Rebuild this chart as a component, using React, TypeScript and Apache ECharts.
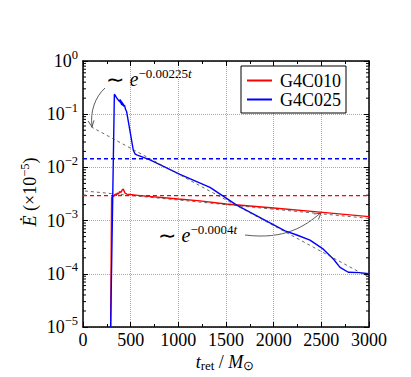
import React, { useEffect, useRef } from "react";
import * as echarts from "echarts";

const FONT = "Liberation Serif";

// Axes
const xMin = 0;
const xMax = 3000;
const xStep = 500;
const yMin = 1e-5;
const yMax = 1;
const yDecadeStarts = [1e-5, 1e-4, 1e-3, 1e-2, 1e-1];
const yMinorMultipliers = [2, 3, 4, 5, 6, 7, 8, 9];

// Series names
const names = ["G4C010", "G4C025"];

// G4C010 (red): [t_ret, Edot]
const g4c010: [number, number][] = [
  [290, 1e-5], [300, 2.7e-3], [312, 2.95e-3], [322, 2.85e-3], [335, 3.1e-3],
  [348, 2.95e-3], [360, 3.3e-3], [372, 3.15e-3], [385, 3.5e-3], [398, 3.4e-3],
  [410, 3.75e-3], [422, 3.9e-3], [440, 3.3e-3], [460, 3.15e-3], [600, 2.95e-3],
  [1000, 2.55e-3], [1227, 2.35e-3], [1500, 2.05e-3], [2000, 1.72e-3],
  [2486, 1.44e-3], [3000, 1.19e-3],
];

// G4C025 (blue)
const g4c025: [number, number][] = [
  [290, 1e-5], [329, 0.237], [345, 0.215], [360, 0.195], [375, 0.18],
  [385, 0.172], [390, 0.19], [395, 0.16], [400, 0.18], [405, 0.15],
  [410, 0.17], [415, 0.145], [420, 0.16], [428, 0.14], [435, 0.15],
  [445, 0.125], [458, 0.111], [528, 0.021], [545, 0.018], [563, 0.0172],
  [703, 0.0138], [1017, 0.0074], [1332, 0.0042], [1612, 0.00196],
  [2119, 6.4e-4], [2250, 5.3e-4], [2381, 4.3e-4], [2521, 2.9e-4],
  [2626, 1.9e-4], [2696, 1.32e-4], [2783, 1.07e-4], [2900, 1.05e-4], [3000, 1.0e-4],
];

// Horizontal reference levels
const g4c010Level = 2.95e-3;
const g4c025Level = 0.0145;

// Exponential fits (straight in log space): endpoints
const fitFast: [number, number][] = [[84, 0.058], [3000, 8.6e-5]];
const fitSlow: [number, number][] = [[20, 3.6e-3], [3000, 1.1e-3]];

const RED = "#ff0000";
const BLUE = "#0000ff";

function supText(v: number): string {
  const e = Math.round(Math.log10(v));
  return e === 0 ? "0" : "\u2212" + Math.abs(e);
}

export default function App() {
  const ref = useRef<HTMLDivElement>(null);

  useEffect(() => {
    if (!ref.current) return;
    const chart = echarts.init(ref.current, undefined, { renderer: "svg" });

    const minorTicks = yDecadeStarts.flatMap((d) => yMinorMultipliers.map((m) => [xMin, m * d]));

    const axisLineStyle = { color: "#000", width: 1.5 };
    const tickStyle = { color: "#000", width: 1 };

    const line = (name: string, data: [number, number][], color: string, width: number, type: any) => ({
      type: "line",
      name,
      data,
      xAxisIndex: 0,
      yAxisIndex: 0,
      symbol: "none",
      showSymbol: false,
      silent: true,
      lineStyle: { color, width, type, opacity: 1 },
      itemStyle: { color },
    });

    const option: any = {
      animation: false,
      backgroundColor: "#fff",
      textStyle: { fontFamily: FONT },
      grid: { left: 83, top: 61, width: 286, height: 266, containLabel: false },
      legend: {
        data: names,
        orient: "vertical",
        left: 241,
        top: 66,
        padding: [5, 5, 4, 6],
        itemGap: 0,
        itemWidth: 25,
        itemHeight: 2,
        icon: "rect",
        borderColor: "#000",
        borderWidth: 1,
        borderRadius: 0,
        backgroundColor: "#fff",
        textStyle: { fontSize: 18, fontFamily: FONT, color: "#000", lineHeight: 19, padding: [0, 0, 0, 3] },
      },
      xAxis: [
        {
          type: "value",
          min: xMin,
          max: xMax,
          interval: xStep,
          position: "bottom",
          axisLine: { onZero: false, lineStyle: axisLineStyle },
          axisTick: { inside: true, length: 5, lineStyle: tickStyle },
          minorTick: { show: true, splitNumber: 2, length: 3, lineStyle: tickStyle },
          splitLine: { show: true, lineStyle: { type: "dotted", color: "#aaaaaa", width: 1 } },
          axisLabel: { fontSize: 18, fontFamily: FONT, color: "#000", margin: 4, formatter: (v: number) => String(v) },
        },
        {
          type: "value",
          min: xMin,
          max: xMax,
          interval: xStep,
          position: "top",
          axisLine: { onZero: false, lineStyle: axisLineStyle },
          axisTick: { inside: true, length: 5, lineStyle: tickStyle },
          minorTick: { show: true, splitNumber: 2, length: 3, lineStyle: tickStyle },
          splitLine: { show: false },
          axisLabel: { show: false },
        },
      ],
      yAxis: [
        {
          type: "log",
          logBase: 10,
          min: yMin,
          max: yMax,
          position: "left",
          axisLine: { onZero: false, lineStyle: axisLineStyle },
          axisTick: { inside: true, length: 5, lineStyle: tickStyle },
          splitLine: { show: true, lineStyle: { type: "dotted", color: "#aaaaaa", width: 1 } },
          axisLabel: {
            margin: 5,
            formatter: (v: number) => `{b|10}{s|${supText(v)}}`,
            rich: {
              b: { fontSize: 18, fontFamily: FONT, color: "#000", lineHeight: 26 },
              s: { fontSize: 12.5, fontFamily: FONT, color: "#000", lineHeight: 12, verticalAlign: "top" },
            },
          },
        },
        {
          type: "log",
          logBase: 10,
          min: yMin,
          max: yMax,
          position: "right",
          axisLine: { onZero: false, lineStyle: axisLineStyle },
          axisTick: { inside: true, length: 5, lineStyle: tickStyle },
          splitLine: { show: false },
          axisLabel: { show: false },
        },
      ],
      series: [
        line("g4c025Level", [[xMin, g4c025Level], [xMax, g4c025Level]], BLUE, 1.4, [4, 3]),
        line("g4c010Level", [[xMin, g4c010Level], [xMax, g4c010Level]], RED, 1.4, [4, 3]),
        line(names[0], g4c010, RED, 1.4, "solid"),
        line(names[1], g4c025, BLUE, 1.4, "solid"),
        line("fitFast", fitFast, "#444", 0.8, [3, 3]),
        line("fitSlow", fitSlow, "#444", 0.8, [3, 3]),
        {
          type: "custom",
          name: "minorTicks",
          xAxisIndex: 0,
          yAxisIndex: 0,
          silent: true,
          data: minorTicks,
          renderItem: (params: any, api: any) => {
            const cs = params.coordSys;
            const y = api.coord([api.value(0), api.value(1)])[1];
            return {
              type: "group",
              children: [
                { type: "line", shape: { x1: cs.x, y1: y, x2: cs.x + 3, y2: y }, style: { stroke: "#000", lineWidth: 1 } },
                { type: "line", shape: { x1: cs.x + cs.width - 3, y1: y, x2: cs.x + cs.width, y2: y }, style: { stroke: "#000", lineWidth: 1 } },
              ],
            };
          },
        },
      ],
      graphic: [
        {
          type: "text",
          x: 106,
          y: 67,
          style: {
            text: "{t|\u223C }{e|e}{s|\u22120.00225}{st|t}",
            align: "left",
            verticalAlign: "top",
            rich: {
              t: { fontSize: 22, fontFamily: FONT, color: "#000", lineHeight: 24 },
              e: { fontSize: 20, fontFamily: FONT, fontStyle: "italic", color: "#000", lineHeight: 24 },
              s: { fontSize: 13, fontFamily: FONT, color: "#000", lineHeight: 13, verticalAlign: "top" },
              st: { fontSize: 13, fontFamily: FONT, fontStyle: "italic", color: "#000", lineHeight: 13, verticalAlign: "top" },
            },
          },
        },
        {
          type: "text",
          x: 158,
          y: 223,
          style: {
            text: "{t|\u223C }{e|e}{s|\u22120.0004}{st|t}",
            align: "left",
            verticalAlign: "top",
            rich: {
              t: { fontSize: 22, fontFamily: FONT, color: "#000", lineHeight: 24 },
              e: { fontSize: 20, fontFamily: FONT, fontStyle: "italic", color: "#000", lineHeight: 24 },
              s: { fontSize: 13, fontFamily: FONT, color: "#000", lineHeight: 13, verticalAlign: "top" },
              st: { fontSize: 13, fontFamily: FONT, fontStyle: "italic", color: "#000", lineHeight: 13, verticalAlign: "top" },
            },
          },
        },
        {
          type: "bezierCurve",
          shape: { x1: 105, y1: 88, cpx1: 95, cpy1: 97, cpx2: 90, cpy2: 112, x2: 92, y2: 126 },
          style: { stroke: "#333", lineWidth: 0.8, fill: null },
        },
        {
          type: "polyline",
          shape: { points: [[88.2, 121.1], [92, 127], [94, 120.3]] },
          style: { stroke: "#333", lineWidth: 0.8, fill: null },
        },
        {
          type: "bezierCurve",
          shape: { x1: 245, y1: 235, cpx1: 285, cpy1: 240, cpx2: 305, cpy2: 226, x2: 320, y2: 213.5 },
          style: { stroke: "#333", lineWidth: 0.8, fill: null },
        },
        {
          type: "polyline",
          shape: { points: [[314.1, 214], [321, 213], [318.4, 219.5]] },
          style: { stroke: "#333", lineWidth: 0.8, fill: null },
        },
        {
          type: "text",
          x: 225,
          y: 362,
          style: {
            text: "{i|t}{sub|ret}{n| / }{i|M}{sub|\u2299}",
            align: "center",
            verticalAlign: "middle",
            rich: {
              i: { fontSize: 18, fontFamily: FONT, fontStyle: "italic", color: "#000", lineHeight: 20 },
              n: { fontSize: 18, fontFamily: FONT, color: "#000", lineHeight: 20 },
              sub: { fontSize: 13, fontFamily: FONT, color: "#000", lineHeight: 12, verticalAlign: "bottom" },
            },
          },
        },
        {
          type: "text",
          x: 30,
          y: 192,
          rotation: Math.PI / 2,
          style: {
            text: "{i|\u0116}{n| (\u00D710}{s|\u22125}{n|)}",
            align: "center",
            verticalAlign: "middle",
            rich: {
              i: { fontSize: 18, fontFamily: FONT, fontStyle: "italic", color: "#000", lineHeight: 24 },
              n: { fontSize: 18, fontFamily: FONT, color: "#000", lineHeight: 24 },
              s: { fontSize: 12.5, fontFamily: FONT, color: "#000", lineHeight: 12, verticalAlign: "top" },
            },
          },
        },
      ],
    };

    chart.setOption(option);
    return () => chart.dispose();
  }, []);

  return (
    <div
      ref={ref}
      style={{ position: "absolute", left: 0, top: 0, width: 411, height: 377, background: "#fff" }}
    />
  );
}
